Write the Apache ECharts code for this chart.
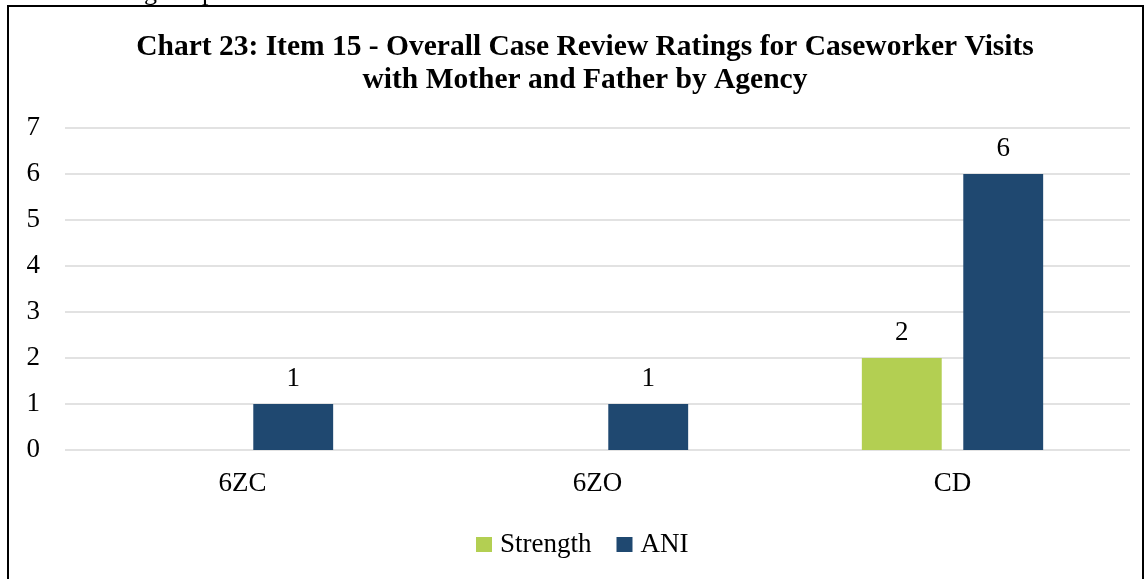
<!DOCTYPE html>
<html>
<head>
<meta charset="utf-8">
<script src="https://cdn.jsdelivr.net/npm/echarts@6/dist/echarts.min.js"></script>
<style>
  html, body { margin: 0; padding: 0; background: #fff; }
  #chart { width: 1145px; height: 579px; }
</style>
</head>
<body>
<div id="chart"></div>
<script>
// data
var agencies = ['6ZC', '6ZO', 'CD'];
var strength = [0, 0, 2];
var ani = [1, 1, 6];
var yTicks = [0, 7, 1]; // min, max, step

var serif = '"Liberation Serif", "DejaVu Serif", serif';

var myChart = echarts.init(document.getElementById('chart'));

function hideZero(p) {
    return p.value ? p.value : '';
}

myChart.setOption({
    animation: false,
    title: {
        text: 'Chart 23: Item 15 - Overall Case Review Ratings for Caseworker Visits\nwith Mother and Father by Agency',
        left: 580,
        top: 26,
        textAlign: 'center',
        textStyle: {
            fontFamily: serif,
            fontWeight: 'bold',
            fontSize: 29.5,
            lineHeight: 33,
            color: '#000'
        }
    },
    graphic: [
        {
            type: 'rect',
            shape: { x: 8, y: 6, width: 1135, height: 600 },
            style: { fill: 'none', stroke: '#000', lineWidth: 2 },
            silent: true
        },
        {
            type: 'text',
            left: 12,
            top: -20,
            style: {
                text: 'review during the period.',
                font: '26px ' + serif,
                fill: '#000'
            }
        }
    ],
    color: ['#B3CF52', '#1F4870'],
    legend: {
        data: ['Strength', 'ANI'],
        top: 531,
        left: 476,
        padding: 0,
        itemWidth: 16,
        itemHeight: 15,
        itemGap: 25,
        icon: 'rect',
        textStyle: { fontFamily: serif, fontSize: 27, color: '#000', padding: [0, 0, 0, 3] }
    },
    grid: {
        left: 65,
        right: 15,
        top: 128,
        bottom: 129,
        containLabel: false
    },
    xAxis: {
        type: 'category',
        data: agencies,
        axisLine: { show: false },
        axisTick: { show: false },
        axisLabel: {
            margin: 20,
            fontFamily: serif,
            fontSize: 27,
            color: '#000'
        }
    },
    yAxis: {
        type: 'value',
        min: yTicks[0],
        max: yTicks[1],
        interval: yTicks[2],
        axisLine: { show: false },
        axisTick: { show: false },
        splitLine: { lineStyle: { color: '#D9D9D9', width: 1.5 } },
        axisLabel: {
            margin: 25,
            fontFamily: serif,
            fontSize: 27,
            color: '#000'
        }
    },
    series: [
        {
            name: 'Strength',
            type: 'bar',
            data: strength,
            barWidth: '22.5%',
            barGap: '27%',
            label: {
                show: true,
                position: 'top',
                distance: 12,
                formatter: hideZero,
                fontFamily: serif,
                fontSize: 27,
                color: '#000'
            }
        },
        {
            name: 'ANI',
            type: 'bar',
            data: ani,
            barWidth: '22.5%',
            label: {
                show: true,
                position: 'top',
                distance: 12,
                formatter: hideZero,
                fontFamily: serif,
                fontSize: 27,
                color: '#000'
            }
        }
    ]
});

window.addEventListener('resize', function () {
    myChart.resize();
});
</script>
</body>
</html>
